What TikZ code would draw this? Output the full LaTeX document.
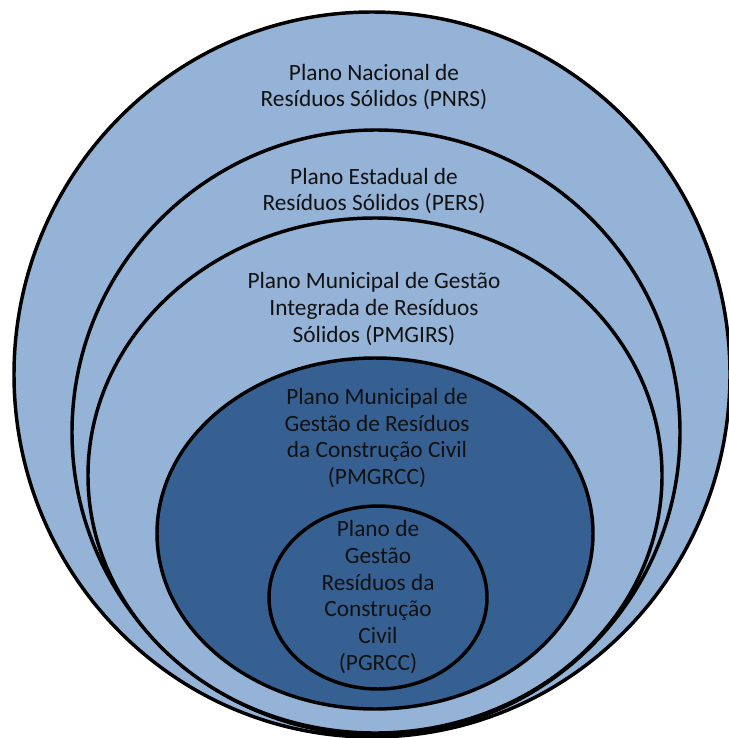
\documentclass[tikz,border=0pt]{standalone}
\usepackage{fontspec}
\setmainfont{Carlito}
\usepackage{tikz}
\usetikzlibrary{positioning}

\definecolor{lightplan}{HTML}{95B3D7}
\definecolor{darkplan}{HTML}{366092}
\definecolor{plantext}{HTML}{111111}

\tikzset{
  planring/.style={line width=2.6pt,draw=black},
  planlabel/.style={align=center,text=plantext,font=\fontsize{17.5}{20}\selectfont,inner sep=0pt}
}

\begin{document}
\begin{tikzpicture}[x=0.75pt,y=-0.75pt]
\useasboundingbox (0,0) rectangle (728,738);
% nested plans, outer to inner
\filldraw[planring,fill=lightplan] (372,374.5) ellipse (358 and 362.5);
\filldraw[planring,fill=lightplan] (376,432.5) ellipse (304 and 302.5);
\filldraw[planring,fill=lightplan] (375,475.5) ellipse (287 and 257.5);
\filldraw[planring,fill=darkplan] (375,533.5) ellipse (218 and 175.5);
\filldraw[planring,fill=darkplan] (378,597.5) ellipse (109 and 91.5);
% labels
\node[planlabel] (pnrs) at (374,87) {Plano Nacional de\\Resíduos Sólidos (PNRS)};
\node[planlabel] (pers) at (374,191) {Plano Estadual de\\Resíduos Sólidos (PERS)};
\node[planlabel] (pmgirs) at (374,309) {Plano Municipal de Gestão\\Integrada de Resíduos\\Sólidos (PMGIRS)};
\node[planlabel] (pmgrcc) at (377,438) {Plano Municipal de\\Gestão de Resíduos\\da Construção Civil\\(PMGRCC)};
\node[planlabel] (pgrcc) at (378,597) {Plano de\\Gestão\\Resíduos da\\Construção\\Civil\\(PGRCC)};
\end{tikzpicture}
\end{document}
